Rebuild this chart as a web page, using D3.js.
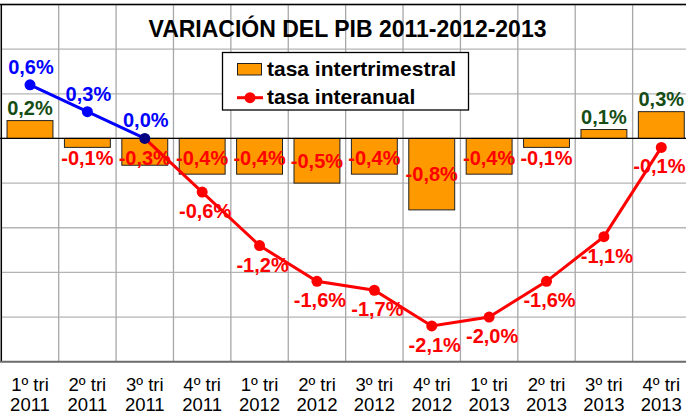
<!DOCTYPE html>
<html>
<head>
<meta charset="utf-8">
<script src="https://cdn.jsdelivr.net/npm/d3@7"></script>
<style>
  body { margin: 0; background: #fff; }
  svg { display: block; font-family: "Liberation Sans", Arial, sans-serif; }
</style>
</head>
<body>
<svg width="686" height="419"></svg>
<script>
// data
var trimestres = ["1º tri", "2º tri", "3º tri", "4º tri", "1º tri", "2º tri", "3º tri", "4º tri", "1º tri", "2º tri", "3º tri", "4º tri"];
var anios = ["2011", "2011", "2011", "2011", "2012", "2012", "2012", "2012", "2013", "2013", "2013", "2013"];
var intertrimestral = [0.2, -0.1, -0.3, -0.4, -0.4, -0.5, -0.4, -0.8, -0.4, -0.1, 0.1, 0.3];
var interanual = [0.6, 0.3, 0.0, -0.6, -1.2, -1.6, -1.7, -2.1, -2.0, -1.6, -1.1, -0.1];
var yTicks = [1.5, 1.0, 0.5, 0, -0.5, -1.0, -1.5, -2.0, -2.5];

var svg = d3.select("svg"),
    width = +svg.attr("width"),
    height = +svg.attr("height");

var idx = d3.range(trimestres.length);

// plot runs past the right edge of the window, like the original
var x = d3.scaleBand().domain(idx).range([1.3, 690]).padding(0);
var y = d3.scaleLinear().domain([-2.5, 1.5]).range([361.7, 4.5]);

var fmt = function(v) { return d3.format(".1f")(v).replace(".", ",").replace("−", "-") + "%"; };
var cx = function(i) { return x(i) + x.bandwidth() / 2; };

// grid
var grid = svg.append("g").attr("class", "grid");
grid.selectAll("line.h")
    .data(yTicks)
    .enter().append("line")
    .attr("class", "h")
    .attr("x1", x.range()[0]).attr("x2", x.range()[1])
    .attr("y1", function(d) { return y(d); })
    .attr("y2", function(d) { return y(d); })
    .attr("stroke", "#b4b4b4")
    .attr("stroke-width", 1.3);

grid.selectAll("line.v")
    .data(idx.slice(1))
    .enter().append("line")
    .attr("class", "v")
    .attr("x1", function(d) { return x(d); })
    .attr("x2", function(d) { return x(d); })
    .attr("y1", y(1.5)).attr("y2", y(-2.5))
    .attr("stroke", "#a8a8a8")
    .attr("stroke-width", 1.3);

// frame
svg.append("line").attr("x1", 0).attr("x2", width).attr("y1", y(1.5)).attr("y2", y(1.5))
    .attr("stroke", "#000").attr("stroke-width", 1.3);
svg.append("line").attr("x1", 1.3).attr("x2", 1.3).attr("y1", y(1.5)).attr("y2", y(-2.5))
    .attr("stroke", "#000").attr("stroke-width", 1.5);
svg.append("line").attr("x1", 0).attr("x2", width).attr("y1", y(-2.5)).attr("y2", y(-2.5))
    .attr("stroke", "#6e6e6e").attr("stroke-width", 2);

// title
svg.append("text")
    .attr("x", 347.5).attr("y", 36.5)
    .attr("text-anchor", "middle")
    .attr("font-size", 23).attr("font-weight", "bold")
    .attr("fill", "#000")
    .text("VARIACIÓN DEL PIB 2011-2012-2013");

// bars
var barW = x.bandwidth() * 0.8;
svg.append("g").selectAll("rect")
    .data(intertrimestral)
    .enter().append("rect")
    .attr("x", function(d, i) { return cx(i) - barW / 2; })
    .attr("width", barW)
    .attr("y", function(d) { return Math.min(y(d), y(0)); })
    .attr("height", function(d) { return Math.abs(y(d) - y(0)); })
    .attr("fill", "#ff9900")
    .attr("stroke", "#222")
    .attr("stroke-width", 1);

// zero line
svg.append("line").attr("x1", 0).attr("x2", width).attr("y1", y(0)).attr("y2", y(0))
    .attr("stroke", "#000").attr("stroke-width", 1.3);

// interanual lines
var line = d3.line()
    .x(function(d) { return cx(d); })
    .y(function(d) { return y(interanual[d]); });

svg.append("path")
    .datum(idx.slice(2))
    .attr("d", line)
    .attr("fill", "none")
    .attr("stroke", "#ff0000")
    .attr("stroke-width", 3);

svg.append("path")
    .datum(idx.slice(0, 3))
    .attr("d", line)
    .attr("fill", "none")
    .attr("stroke", "#0000ff")
    .attr("stroke-width", 3);

svg.append("g").selectAll("circle")
    .data(idx)
    .enter().append("circle")
    .attr("cx", function(d) { return cx(d); })
    .attr("cy", function(d) { return y(interanual[d]); })
    .attr("r", 5.5)
    .attr("fill", function(d) { return d < 2 ? "#0000ff" : (d == 2 ? "#000080" : "#ff0000"); });

// bar labels
svg.append("g").selectAll("text")
    .data(intertrimestral)
    .enter().append("text")
    .attr("x", function(d, i) { return cx(i); })
    .attr("y", function(d) {
      if (d >= 0) return y(d) - 6;
      return Math.max((y(d) + y(0)) / 2 + 7, y(0) + 27);
    })
    .attr("text-anchor", "middle")
    .attr("font-size", 20).attr("font-weight", "bold")
    .attr("fill", function(d) { return d >= 0 ? "#154d15" : "#ff0000"; })
    .text(fmt);

// line labels
var lineLabels = svg.append("g").selectAll("text")
    .data(idx)
    .enter().append("text")
    .attr("x", function(d) { return d < 3 ? cx(d) + 1 : cx(d) + 3; })
    .attr("y", function(d) { return d < 3 ? y(interanual[d]) - 11 : y(interanual[d]) + 26; })
    .attr("text-anchor", "middle")
    .attr("font-size", 20).attr("font-weight", "bold")
    .attr("fill", function(d) { return d < 3 ? "#0000ff" : "#ff0000"; })
    .text(function(d) { return fmt(interanual[d]); });

// keep labels inside the window
lineLabels.each(function() {
  var t = d3.select(this),
      w = this.getComputedTextLength(),
      lx = +t.attr("x");
  if (lx + w / 2 > width - 0.5) t.attr("x", width - 0.5 - w / 2);
});

// legend
var legend = svg.append("g");
legend.append("rect")
    .attr("x", 222.5).attr("y", 52.5).attr("width", 246).attr("height", 57.5)
    .attr("fill", "#fff").attr("stroke", "#000").attr("stroke-width", 1.3);
legend.append("rect")
    .attr("x", 237.5).attr("y", 63.5).attr("width", 24).attr("height", 11.5)
    .attr("fill", "#ff9900").attr("stroke", "#222").attr("stroke-width", 1);
legend.append("text")
    .attr("x", 267).attr("y", 75.5)
    .attr("font-size", 21).attr("font-weight", "bold")
    .text("tasa intertrimestral");
legend.append("line")
    .attr("x1", 237).attr("x2", 263).attr("y1", 97.7).attr("y2", 97.7)
    .attr("stroke", "#ff0000").attr("stroke-width", 3);
legend.append("circle")
    .attr("cx", 250).attr("cy", 97.7).attr("r", 5.5).attr("fill", "#ff0000");
legend.append("text")
    .attr("x", 267).attr("y", 103.5)
    .attr("font-size", 21).attr("font-weight", "bold")
    .text("tasa interanual");

// category labels
var cats = svg.append("g").selectAll("text")
    .data(idx)
    .enter().append("text")
    .attr("text-anchor", "middle")
    .attr("font-size", 18.5)
    .attr("fill", "#000");
cats.append("tspan")
    .attr("x", function(d) { return cx(d); })
    .attr("y", 391)
    .text(function(d) { return trimestres[d]; });
cats.append("tspan")
    .attr("x", function(d) { return cx(d); })
    .attr("y", 411)
    .text(function(d) { return anios[d]; });
</script>
</body>
</html>
